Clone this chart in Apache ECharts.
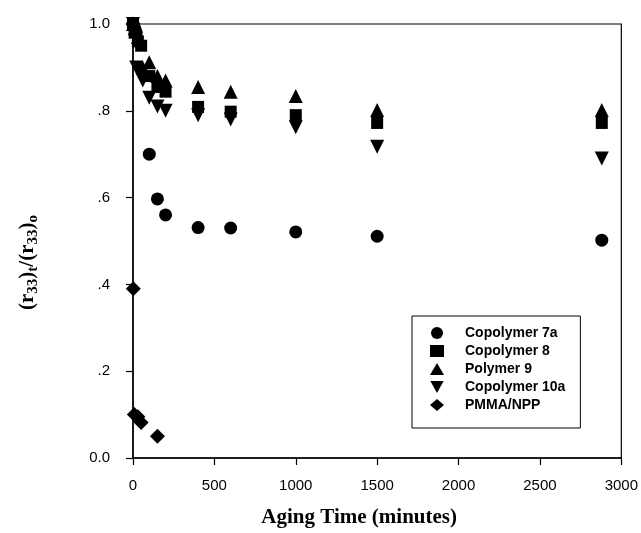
<!DOCTYPE html>
<html>
<head>
<meta charset="utf-8">
<script src="https://cdn.jsdelivr.net/npm/echarts@6/dist/echarts.min.js"></script>
<style>
  html, body { margin: 0; padding: 0; background: #fff; }
  #chart { width: 641px; height: 533px; }
</style>
</head>
<body>
<div id="chart"></div>
<script>
// aging time (minutes) / normalized r33
const copolymer7a = [[0, 1.0], [10, 0.99], [20, 0.98], [100, 0.70], [150, 0.597], [200, 0.56], [400, 0.531], [600, 0.53], [1000, 0.521], [1500, 0.511], [2880, 0.502]]
const copolymer8 = [[0, 1.0], [10, 0.98], [30, 0.96], [50, 0.95], [100, 0.88], [150, 0.855], [200, 0.844], [400, 0.809], [600, 0.798], [1000, 0.79], [1500, 0.772], [2880, 0.772]]
const polymer9 = [[0, 1.0], [10, 0.99], [30, 0.97], [60, 0.90], [100, 0.912], [150, 0.88], [200, 0.87], [400, 0.855], [600, 0.844], [1000, 0.834], [1500, 0.802], [2880, 0.802]]
const copolymer10a = [[0, 1.0], [10, 0.975], [20, 0.90], [60, 0.87], [100, 0.83], [150, 0.81], [200, 0.80], [400, 0.79], [600, 0.78], [1000, 0.762], [1500, 0.717], [2880, 0.69]]
const pmmaNpp = [[0, 1.0], [2, 0.39], [8, 0.10], [30, 0.095], [50, 0.082], [150, 0.05]]

const seriesNames = ['Copolymer 7a', 'Copolymer 8', 'Polymer 9', 'Copolymer 10a', 'PMMA/NPP']
const xTicks = [0, 500, 1000, 1500, 2000, 2500, 3000]
const yTickLabels = { 0: '0.0', 0.2: '.2', 0.4: '.4', 0.6: '.6', 0.8: '.8', 1: '1.0' }

const downTri = 'path://M0,0 L10,0 L5,9 Z'
const symbols = ['circle', 'rect', 'triangle', downTri, 'diamond']
const sizes = [13, 12, 14, 14, 15]
const dataSets = [copolymer7a, copolymer8, polymer9, copolymer10a, pmmaNpp]

const chart = echarts.init(document.getElementById('chart'), null, { renderer: 'canvas' })

const labelFont = { color: '#000', fontFamily: 'Arial, "Liberation Sans", sans-serif', fontSize: 15 }
const serif = '"Liberation Serif", "Times New Roman", serif'

chart.setOption({
  animation: false,
  backgroundColor: '#fff',
  grid: { left: 133, right: 18, top: 24, bottom: 74, show: true, borderColor: '#000', borderWidth: 1.2 },
  legend: {
    data: seriesNames,
    orient: 'vertical',
    left: 412,
    top: 316,
    padding: [10, 15, 16, 18],
    itemWidth: 14,
    itemHeight: 12,
    itemGap: 4,
    borderColor: '#000',
    borderWidth: 1,
    textStyle: { color: '#000', fontFamily: 'Arial, "Liberation Sans", sans-serif', fontSize: 14, fontWeight: 'bold', padding: [0, 0, 0, 16] },
  },
  xAxis: {
    type: 'value',
    min: 0,
    max: 3000,
    interval: 500,
    name: 'Aging Time (minutes)',
    nameLocation: 'middle',
    nameGap: 49,
    nameTextStyle: { color: '#000', fontFamily: serif, fontSize: 21, fontWeight: 'bold', padding: [0, 36, 0, 0] },
    axisLine: { lineStyle: { color: '#000', width: 1.5 } },
    axisTick: { show: true, length: 7, lineStyle: { color: '#000', width: 1.2 } },
    axisLabel: { ...labelFont, margin: 20, formatter: v => xTicks.includes(v) ? String(v) : '' },
    splitLine: { show: false },
  },
  yAxis: {
    type: 'value',
    min: 0,
    max: 1,
    interval: 0.2,
    name: '(r{s|33}){s|t}/(r{s|33}){s|o}',
    nameLocation: 'middle',
    nameRotate: 90,
    nameGap: 92,
    nameTextStyle: {
      color: '#000',
      fontFamily: serif,
      fontSize: 21,
      fontWeight: 'bold',
      padding: [0, 43, 0, 0],
      rich: {
        s: { fontFamily: serif, fontSize: 15, fontWeight: 'bold', color: '#000', padding: [12, 0, 0, 0] },
      },
    },
    axisLine: { show: true, lineStyle: { color: '#000', width: 1.5 } },
    axisTick: { show: true, length: 7, lineStyle: { color: '#000', width: 1.2 } },
    axisLabel: { ...labelFont, margin: 23, formatter: v => yTickLabels[Math.round(v * 10) / 10] ?? '' },
    splitLine: { show: false },
  },
  series: seriesNames.map((name, i) => ({
    name,
    type: 'scatter',
    data: dataSets[i],
    symbol: symbols[i],
    symbolSize: sizes[i],
    itemStyle: { color: '#000', opacity: 1 },
  })),
})
</script>
</body>
</html>
